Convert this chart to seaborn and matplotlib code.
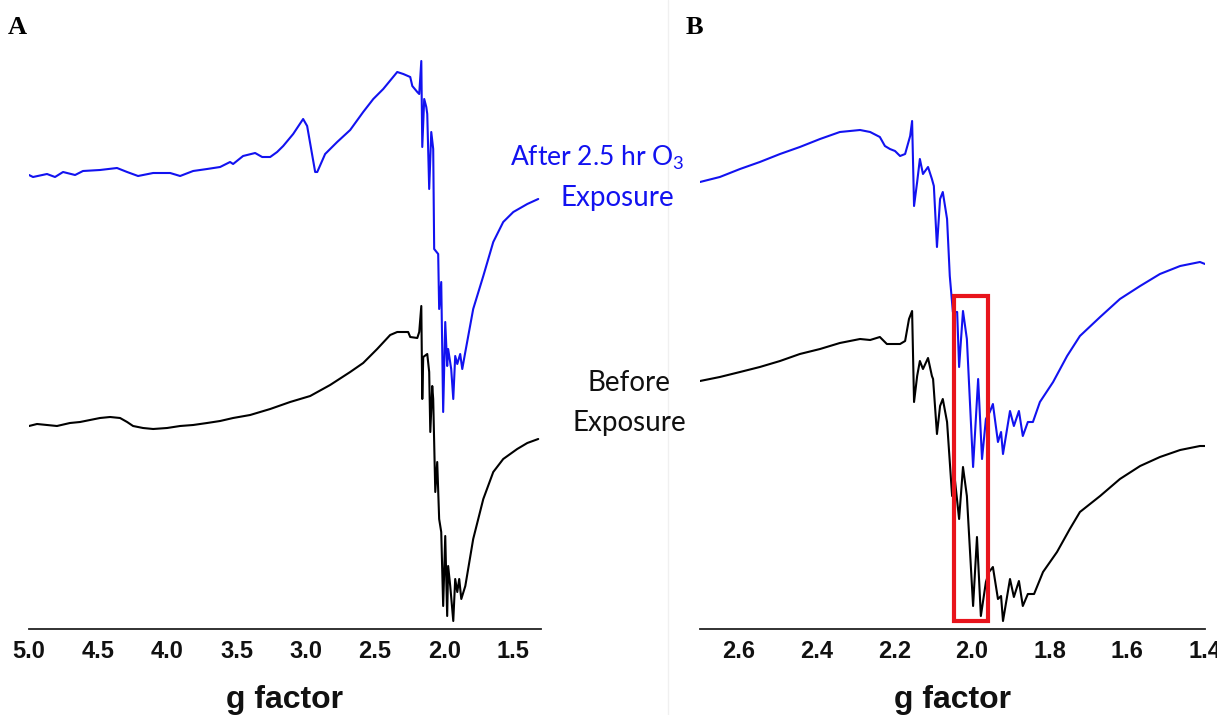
import matplotlib
matplotlib.use("Agg")
import matplotlib.pyplot as plt
from matplotlib.patches import Rectangle
from matplotlib.ticker import MultipleLocator, FormatStrFormatter
import seaborn as sns

sns.set_theme(style="white")
plt.rcParams["mathtext.fontset"] = "custom"
plt.rcParams["mathtext.rm"] = "Lato"

# ---- Panel A: wide-scan EPR spectra (g factor vs. signal, a.u.) ----
g_a_after = [5.000, 4.971, 4.870, 4.812, 4.754, 4.667, 4.610, 4.487, 4.364, 4.291,
             4.212, 4.103, 3.980, 3.908, 3.814, 3.713, 3.619, 3.547, 3.525, 3.453,
             3.366, 3.315, 3.257, 3.207, 3.163, 3.091, 3.019, 2.990, 2.932, 2.917,
             2.860, 2.773, 2.679, 2.585, 2.512, 2.440, 2.339, 2.295, 2.245, 2.230,
             2.194, 2.180, 2.165, 2.158, 2.144, 2.129, 2.122, 2.108, 2.093, 2.079,
             2.072, 2.043, 2.036, 2.021, 2.007, 1.992, 1.978, 1.971, 1.949, 1.934,
             1.920, 1.905, 1.884, 1.869, 1.847, 1.790, 1.717, 1.645, 1.573, 1.500,
             1.399, 1.320]
s_a_after = [454, 452, 455, 452, 457, 454, 458, 459, 461, 457,
             453, 456, 456, 453, 458, 460, 462, 467, 465, 473,
             476, 472, 472, 477, 483, 495, 510, 503, 457, 457,
             475, 487, 499, 517, 530, 540, 557, 555, 552, 543,
             537, 535, 568, 482, 530, 522, 515, 440, 497, 480,
             380, 375, 320, 347, 217, 307, 263, 280, 260, 230,
             273, 265, 275, 260, 277, 320, 353, 387, 407, 417,
             425, 430]

g_a_before = [5.000, 4.942, 4.870, 4.798, 4.704, 4.631, 4.559, 4.487, 4.414, 4.342,
              4.291, 4.248, 4.176, 4.103, 4.002, 3.908, 3.814, 3.713, 3.619, 3.525,
              3.402, 3.257, 3.113, 2.968, 2.824, 2.679, 2.585, 2.484, 2.390, 2.339,
              2.296, 2.260, 2.245, 2.194, 2.180, 2.165, 2.158, 2.151, 2.122, 2.108,
              2.100, 2.086, 2.079, 2.064, 2.050, 2.036, 2.021, 2.007, 1.992, 1.978,
              1.971, 1.956, 1.934, 1.920, 1.905, 1.891, 1.876, 1.847, 1.790, 1.717,
              1.645, 1.573, 1.472, 1.399, 1.320]
s_a_before = [203, 205, 204, 203, 206, 207, 209, 211, 212, 211,
              207, 203, 201, 200, 201, 203, 204, 206, 208, 211,
              214, 220, 227, 233, 244, 257, 266, 280, 294, 297,
              297, 297, 292, 291, 297, 323, 230, 272, 275, 257,
              197, 243, 230, 137, 167, 110, 97, 23, 93, 13,
              63, 43, 8, 50, 37, 50, 30, 43, 90, 130,
              157, 170, 180, 186, 190]

# ---- Panel B: expanded view around g = 2 ----
g_b_after = [2.700, 2.649, 2.597, 2.546, 2.494, 2.443, 2.391, 2.340, 2.288, 2.262,
             2.237, 2.224, 2.211, 2.198, 2.185, 2.172, 2.159, 2.154, 2.149, 2.141,
             2.134, 2.126, 2.113, 2.103, 2.098, 2.090, 2.082, 2.075, 2.064, 2.057,
             2.049, 2.038, 2.033, 2.023, 2.013, 1.997, 1.984, 1.974, 1.964, 1.954,
             1.946, 1.933, 1.925, 1.920, 1.902, 1.892, 1.879, 1.869, 1.856, 1.843,
             1.825, 1.791, 1.755, 1.722, 1.670, 1.619, 1.567, 1.516, 1.464, 1.413,
             1.400]
s_b_after = [447, 452, 460, 467, 475, 482, 490, 497, 499, 497,
             492, 483, 480, 478, 473, 475, 493, 508, 423, 447,
             470, 455, 462, 450, 443, 382, 430, 437, 410, 353,
             317, 317, 262, 318, 290, 162, 250, 170, 210, 217,
             225, 187, 197, 175, 218, 203, 218, 193, 207, 207,
             227, 247, 273, 293, 312, 330, 343, 355, 363, 367,
             365]

g_b_before = [2.700, 2.649, 2.597, 2.546, 2.494, 2.443, 2.391, 2.340, 2.288, 2.262,
              2.237, 2.219, 2.185, 2.172, 2.162, 2.154, 2.149, 2.141, 2.134, 2.126,
              2.113, 2.103, 2.100, 2.090, 2.082, 2.075, 2.064, 2.051, 2.044, 2.033,
              2.023, 2.013, 1.997, 1.987, 1.977, 1.964, 1.956, 1.946, 1.933, 1.925,
              1.920, 1.902, 1.892, 1.879, 1.869, 1.856, 1.840, 1.817, 1.781, 1.748,
              1.722, 1.670, 1.619, 1.567, 1.516, 1.464, 1.413, 1.400]
s_b_before = [248, 252, 257, 262, 268, 275, 280, 286, 290, 289,
              292, 285, 285, 288, 310, 318, 227, 253, 268, 260,
              271, 253, 250, 195, 223, 230, 207, 133, 150, 110,
              162, 133, 23, 92, 13, 47, 57, 62, 30, 33,
              8, 50, 32, 48, 23, 35, 35, 57, 77, 100,
              117, 133, 150, 163, 172, 179, 183, 183]

# highlighted g-window in panel B
box_g = (2.046, 1.959)
box_s = (8, 333)

BLUE = "#1212f0"
INK = "#111111"
W, H = 1217, 715
fig = plt.figure(figsize=(W / 100, H / 100), dpi=100)

ax_a = fig.add_axes([29 / W, 86 / H, 512 / W, 590 / H])
ax_b = fig.add_axes([700 / W, 86 / H, 505 / W, 590 / H])

for ax, (ga1, sa1, ga0, sa0) in (
    (ax_a, (g_a_after, s_a_after, g_a_before, s_a_before)),
    (ax_b, (g_b_after, s_b_after, g_b_before, s_b_before)),
):
    sns.lineplot(x=ga1, y=sa1, ax=ax, color=BLUE, lw=1.5, estimator=None)
    sns.lineplot(x=ga0, y=sa0, ax=ax, color="black", lw=1.5, estimator=None)

ax_a.set_xlim(5.0, 1.3)
ax_b.set_xlim(2.7, 1.4)
ax_a.xaxis.set_major_locator(MultipleLocator(0.5))
ax_a.xaxis.set_minor_locator(MultipleLocator(0.25))
ax_b.xaxis.set_major_locator(MultipleLocator(0.2))
ax_b.xaxis.set_minor_locator(MultipleLocator(0.1))

for ax in (ax_a, ax_b):
    ax.set_ylim(0, 590)
    ax.set_facecolor("none")
    for side in ("left", "top", "right"):
        ax.spines[side].set_visible(False)
    ax.spines["bottom"].set_color("#222222")
    ax.spines["bottom"].set_linewidth(1.3)
    ax.set_yticks([])
    ax.set_ylabel("")
    ax.tick_params(axis="x", which="major", direction="in", length=6, width=1.2,
                   color="#222222", pad=8, labelsize=17)
    ax.tick_params(axis="x", which="minor", direction="in", length=4, width=1.0,
                   color="#222222")
    ax.xaxis.set_major_formatter(FormatStrFormatter("%.1f"))
    for lab in ax.get_xticklabels():
        lab.set_fontfamily("Liberation Sans")
        lab.set_fontweight("bold")
        lab.set_color(INK)
    ax.set_xlabel("g factor", fontfamily="Liberation Sans", fontweight="bold",
                  fontsize=23, color=INK, labelpad=16)

ax_b.add_patch(Rectangle((box_g[0], box_s[0]), box_g[1] - box_g[0], box_s[1] - box_s[0],
                         fill=False, edgecolor="#e8141c", lw=3, zorder=5))

# thin separator between the panels
fig.add_artist(plt.Line2D([668 / W, 668 / W], [0, 1], color="#f0f0f0", lw=1))

# panel letters
fig.text(8 / W, 1 - 28 / H, "A", fontfamily="Liberation Serif", fontweight="bold",
         fontsize=19, va="center", ha="left", color="black")
fig.text(686 / W, 1 - 28 / H, "B", fontfamily="Liberation Serif", fontweight="bold",
         fontsize=19, va="center", ha="left", color="black")

# trace labels
fig.text(597 / W, 1 - 158 / H, r"After 2.5 hr O$_{\mathrm{3}}$", fontfamily="Lato",
         fontsize=19, color=BLUE, ha="center", va="center")
fig.text(617 / W, 1 - 198 / H, "Exposure", fontfamily="Lato",
         fontsize=20, color=BLUE, ha="center", va="center")
fig.text(629 / W, 1 - 383 / H, "Before", fontfamily="Lato",
         fontsize=20, color=INK, ha="center", va="center")
fig.text(629 / W, 1 - 423 / H, "Exposure", fontfamily="Lato",
         fontsize=20, color=INK, ha="center", va="center")

fig.savefig("out.png", dpi=100, facecolor="white")
